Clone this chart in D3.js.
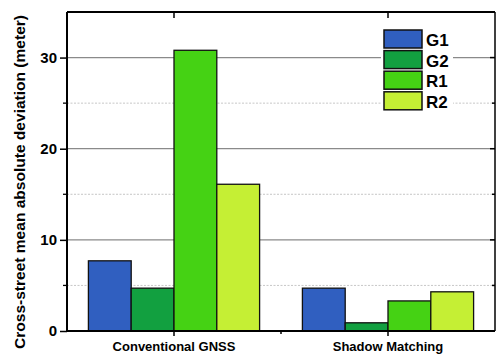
<!DOCTYPE html>
<html>
<head>
<meta charset="utf-8">
<script src="https://cdn.jsdelivr.net/npm/d3@7"></script>
<style>
  body { margin: 0; background: #fff; }
  svg { display: block; font-family: Arial, "Liberation Sans", sans-serif; }
</style>
</head>
<body>
<svg id="chart" width="497" height="354"></svg>
<script>
// Cross-street mean absolute deviation per positioning method and receiver
const categories = ["Conventional GNSS", "Shadow Matching"];
const seriesNames = ["G1", "G2", "R1", "R2"];
const seriesColors = ["#305fc0", "#12a040", "#45d214", "#c5ef34"];
const valuesG1 = [7.7, 4.7];
const valuesG2 = [4.7, 0.9];
const valuesR1 = [30.8, 3.3];
const valuesR2 = [16.1, 4.3];
const majorTicks = [0, 10, 20, 30];
const minorTicks = [5, 15, 25];
const yLabel = "Cross-street mean absolute deviation (meter)";

const series = [valuesG1, valuesG2, valuesR1, valuesR2];

const svg = d3.select("#chart");
const margin = { left: 67, right: 2, top: 12, bottom: 23 };
const W = 497, H = 354;
const x0 = margin.left, x1 = W - margin.right;
const yTop = margin.top, yBot = H - margin.bottom;

const x = d3.scaleBand().domain(categories).range([x0, x1]).paddingInner(0).paddingOuter(0);
const xs = d3.scaleBand().domain(seriesNames).range([0, x.bandwidth()]).paddingInner(0).paddingOuter(0.5);
const y = d3.scaleLinear().domain([0, 35]).range([yBot, yTop]);

// grid lines
const grid = svg.append("g");
grid.selectAll("line.major").data(majorTicks.filter(d => d > 0)).join("line")
  .attr("x1", x0).attr("x2", x1).attr("y1", d => y(d)).attr("y2", d => y(d))
  .attr("stroke", "#8a8a8a").attr("stroke-width", 1.2);
grid.selectAll("line.minor").data(minorTicks).join("line")
  .attr("x1", x0).attr("x2", x1).attr("y1", d => y(d)).attr("y2", d => y(d))
  .attr("stroke", "#b8b8b8").attr("stroke-width", 0.8).attr("stroke-dasharray", "2,1.5");

// bars
const bars = svg.append("g");
categories.forEach((c, ci) => {
  seriesNames.forEach((s, si) => {
    const v = series[si][ci];
    bars.append("rect")
      .attr("x", x(c) + xs(s))
      .attr("y", y(v))
      .attr("width", xs.bandwidth())
      .attr("height", yBot - y(v))
      .attr("fill", seriesColors[si])
      .attr("stroke", "#111")
      .attr("stroke-width", 1.3);
  });
});

// frame
const frame = svg.append("g").attr("stroke", "#000").attr("fill", "none");
frame.append("line").attr("x1", x0).attr("x2", x1).attr("y1", yTop).attr("y2", yTop).attr("stroke-width", 2);
frame.append("line").attr("x1", x1).attr("x2", x1).attr("y1", yTop).attr("y2", yBot).attr("stroke-width", 1.5);

// left axis
const yAxis = d3.axisLeft(y).tickValues(majorTicks).tickSize(7).tickPadding(3).tickFormat(d3.format("d"));
const gy = svg.append("g").attr("transform", `translate(${x0},0)`).call(yAxis);
gy.select(".domain").attr("stroke-width", 2).attr("d", `M0,${yTop}V${yBot}`);
gy.selectAll(".tick line").attr("stroke-width", 1.5);
gy.selectAll(".tick text").attr("font-size", 15).attr("font-weight", "bold").attr("fill", "#000");
gy.selectAll("line.minor").data(minorTicks).join("line")
  .attr("x1", -4).attr("x2", 0).attr("y1", d => y(d)).attr("y2", d => y(d))
  .attr("stroke", "#000").attr("stroke-width", 1.3);

// right axis ticks (inward)
const rt = svg.append("g").attr("transform", `translate(${x1},0)`);
rt.selectAll("line").data(majorTicks.concat(minorTicks)).join("line")
  .attr("x1", d => majorTicks.includes(d) ? -5 : -3).attr("x2", 0)
  .attr("y1", d => y(d)).attr("y2", d => y(d))
  .attr("stroke", "#000").attr("stroke-width", 1.5);

// bottom axis
const xAxis = d3.axisBottom(x).tickSize(5).tickPadding(6);
const gx = svg.append("g").attr("transform", `translate(0,${yBot})`).call(xAxis);
gx.select(".domain").attr("stroke-width", 2).attr("d", `M${x0},0H${x1}`);
gx.selectAll(".tick line").attr("stroke-width", 1.5);
gx.selectAll(".tick text").attr("font-size", 13).attr("font-weight", "bold").attr("fill", "#000");
// minor tick on the category boundary
gx.selectAll("line.minor").data([x(categories[1])]).join("line")
  .attr("x1", d => d).attr("x2", d => d).attr("y1", 0).attr("y2", 3)
  .attr("stroke", "#000").attr("stroke-width", 1.5);

// top axis ticks (inward)
svg.append("g").selectAll("line").data(categories).join("line")
  .attr("x1", d => x(d) + x.bandwidth() / 2).attr("x2", d => x(d) + x.bandwidth() / 2)
  .attr("y1", yTop).attr("y2", yTop + 6)
  .attr("stroke", "#000").attr("stroke-width", 1.5);

// y axis title
svg.append("text")
  .attr("transform", `translate(25,182) rotate(-90)`)
  .attr("text-anchor", "middle")
  .attr("font-size", 15.5).attr("font-weight", "bold")
  .attr("textLength", 334).attr("lengthAdjust", "spacingAndGlyphs")
  .text(yLabel);

// legend
const legend = svg.append("g").attr("transform", "translate(384,30)");
legend.append("rect").attr("x", -3).attr("y", -2).attr("width", 72).attr("height", 84).attr("fill", "#fff");
seriesNames.forEach((s, i) => {
  const row = legend.append("g").attr("transform", `translate(0,${i * 20.6})`);
  row.append("rect").attr("width", 38).attr("height", 18)
    .attr("fill", seriesColors[i]).attr("stroke", "#111").attr("stroke-width", 1.5);
  row.append("text").attr("x", 42).attr("y", 16)
    .attr("font-size", 17).attr("font-weight", "bold").text(s);
});
</script>
</body>
</html>
